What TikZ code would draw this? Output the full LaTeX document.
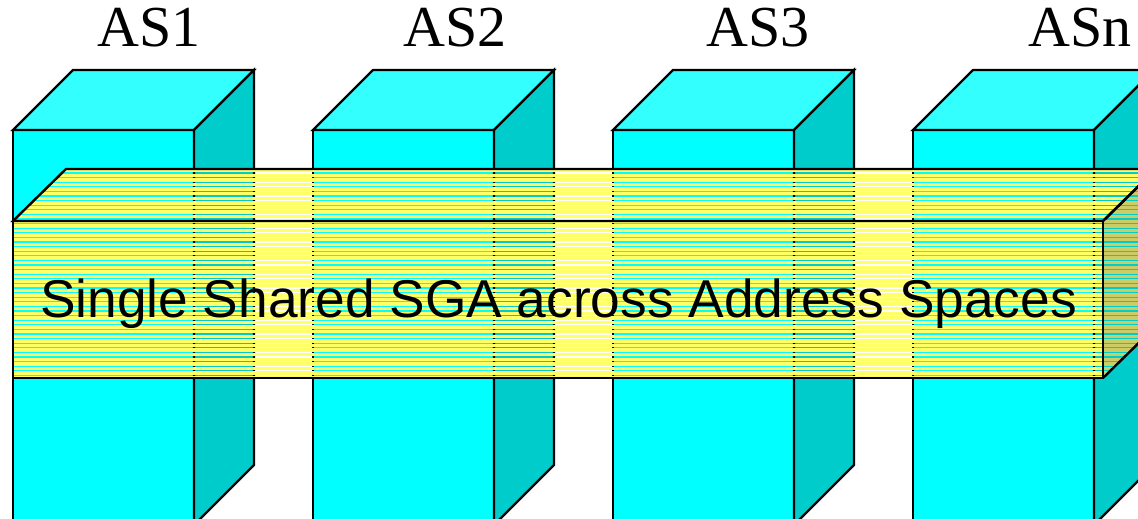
\documentclass[tikz,border=0pt]{standalone}
\usepackage{fontspec}
\setmainfont{Liberation Serif}
\newfontfamily\arialfont{Liberation Sans}
\definecolor{cfront}{HTML}{00FFFF}
\definecolor{ctop}{HTML}{33FFFF}
\definecolor{cside}{HTML}{00CCCC}
\definecolor{barfront}{HTML}{FFFF66}
\definecolor{barside}{HTML}{CCCC66}
\tikzset{
  edge/.style={draw=black,line width=2.4pt,line join=miter},
  aslabel/.style={anchor=base,inner sep=0pt,font=\fontsize{58}{60}\selectfont},
  barlabel/.style={anchor=base,inner sep=0pt,font=\arialfont\fontsize{53.3}{60}\selectfont},
}
\begin{document}
\begin{tikzpicture}[x=1pt,y=-1pt]
\useasboundingbox (0,0) rectangle (1138,519);
\clip (0,0) rectangle (1138,519);
% boxes
\foreach \i in {0,1,2,3}{
  \begin{scope}[xshift=300*\i]
    \filldraw[edge,fill=cfront] (13,130) rectangle (194,525);
    \filldraw[edge,fill=ctop] (13,130) -- (73,70) -- (254,70) -- (194,130) -- cycle;
    \filldraw[edge,fill=cside] (194,130) -- (254,70) -- (254,465) -- (194,525) -- cycle;
  \end{scope}
}
% bar stripes: top + front faces
\begin{scope}
  \clip (13,221) -- (66,169) -- (1156,169) -- (1103,221) -- (1103,378) -- (13,378) -- cycle;
  \foreach \k in {0,...,46}{
    \fill[fill=barfront] (0,169+4.6*\k) rectangle (1160,169+4.6*\k+3.3);
  }
\end{scope}
% bar stripes: side face
\begin{scope}
  \clip (1103,221) -- (1156,169) -- (1156,326) -- (1103,378) -- cycle;
  \foreach \k in {0,...,46}{
    \fill[fill=barside] (0,169+4.6*\k) rectangle (1160,169+4.6*\k+3.3);
  }
\end{scope}
% bar outline
\draw[edge] (13,221) -- (66,169) -- (1156,169) -- (1103,221) -- cycle;
\draw[edge] (13,221) rectangle (1103,378);
\draw[edge] (1103,221) -- (1156,169) -- (1156,326) -- (1103,378);
% labels
\node[aslabel] (as1) at (149,47) {AS1};
\node[aslabel] (as2) at (455,47) {AS2};
\node[aslabel] (as3) at (758,47) {AS3};
\node[aslabel] (asn) at (1080,47) {ASn};
\node[barlabel] (sga) at (558.5,317) {Single Shared SGA across Address Spaces};
\end{tikzpicture}
\end{document}
